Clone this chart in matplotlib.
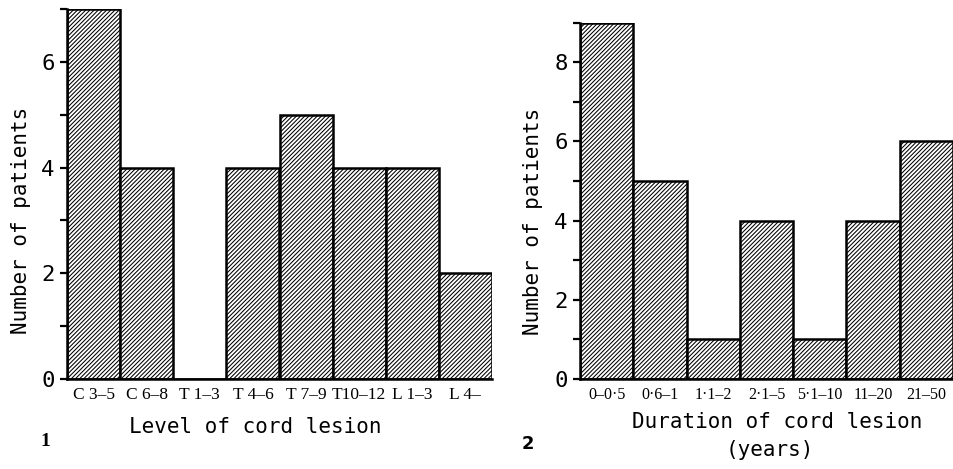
import matplotlib
matplotlib.use("Agg")
import matplotlib.pyplot as plt
from matplotlib.ticker import MultipleLocator

# Dados - figura 1 (nível da lesão)
niveis = ["C 3–5", "C 6–8", "T 1–3", "T 4–6", "T 7–9", "T10–12", "L 1–3", "L 4–"]
pacientes_nivel = [7, 4, 0, 4, 5, 4, 4, 2]

# Dados - figura 2 (duração da lesão, anos)
duracoes = ["0–0·5", "0·6–1", "1·1–2", "2·1–5", "5·1–10", "11–20", "21–50"]
pacientes_duracao = [9, 5, 1, 4, 1, 4, 6]

plt.rcParams["hatch.linewidth"] = 0.75
plt.rcParams["hatch.color"] = "black"

fonte_eixo = dict(family="DejaVu Sans Mono", fontsize=15)

fig = plt.figure(figsize=(9.54, 4.69), dpi=100)
W, H = 954, 469


def px(x0, y0, x1, y1):
    # converte caixa em pixels (topo-esquerda) para fração da figura
    return [x0 / W, 1 - y1 / H, (x1 - x0) / W, (y1 - y0) / H]


def painel(ax, categorias, valores, ymax, fs_cat):
    x = range(len(categorias))
    ax.bar(x, valores, width=1.0, facecolor="white", edgecolor="black",
           linewidth=1.8, hatch="/" * 8, zorder=2)
    ax.set_xlim(-0.5, len(categorias) - 0.5)
    ax.set_ylim(0, ymax)
    ax.spines["top"].set_visible(False)
    ax.spines["right"].set_visible(False)
    for s in ("left", "bottom"):
        ax.spines[s].set_linewidth(1.8)
    ax.yaxis.set_major_locator(MultipleLocator(2))
    ax.yaxis.set_minor_locator(MultipleLocator(1))
    ax.tick_params(axis="y", which="both", direction="out", length=5, width=1.6, pad=4)
    ax.tick_params(axis="x", length=0, pad=6)
    ax.set_xticks(list(x))
    ax.set_xticklabels(categorias, family="Liberation Serif", fontsize=fs_cat)
    for t in ax.get_yticklabels():
        t.set_family("DejaVu Sans Mono")
        t.set_fontsize(16)
    ax.set_ylabel("Number of patients", **fonte_eixo)


# Figura 1
ax1 = fig.add_axes(px(67, 9, 492, 379))
painel(ax1, niveis, pacientes_nivel, 7, 12.5)
ax1.yaxis.set_label_coords(-0.085, 0.43)
fig.text(255 / W, 1 - 427 / H, "Level of cord lesion", ha="center", va="center", **fonte_eixo)
fig.text(45 / W, 1 - 441 / H, "1", ha="center", va="center", family="Liberation Serif",
         fontsize=14, fontweight="bold")

# Figura 2
ax2 = fig.add_axes(px(580, 22.7, 953, 379))
painel(ax2, duracoes, pacientes_duracao, 9, 11.5)
ax2.yaxis.set_label_coords(-0.1, 0.443)
fig.text(777 / W, 1 - 422 / H, "Duration of cord lesion", ha="center", va="center", **fonte_eixo)
fig.text(770 / W, 1 - 450 / H, "(years)", ha="center", va="center", **fonte_eixo)
fig.text(528 / W, 1 - 444 / H, "2", ha="center", va="center", family="DejaVu Sans",
         fontsize=13, fontweight="bold")

fig.savefig("out.png", dpi=100)
